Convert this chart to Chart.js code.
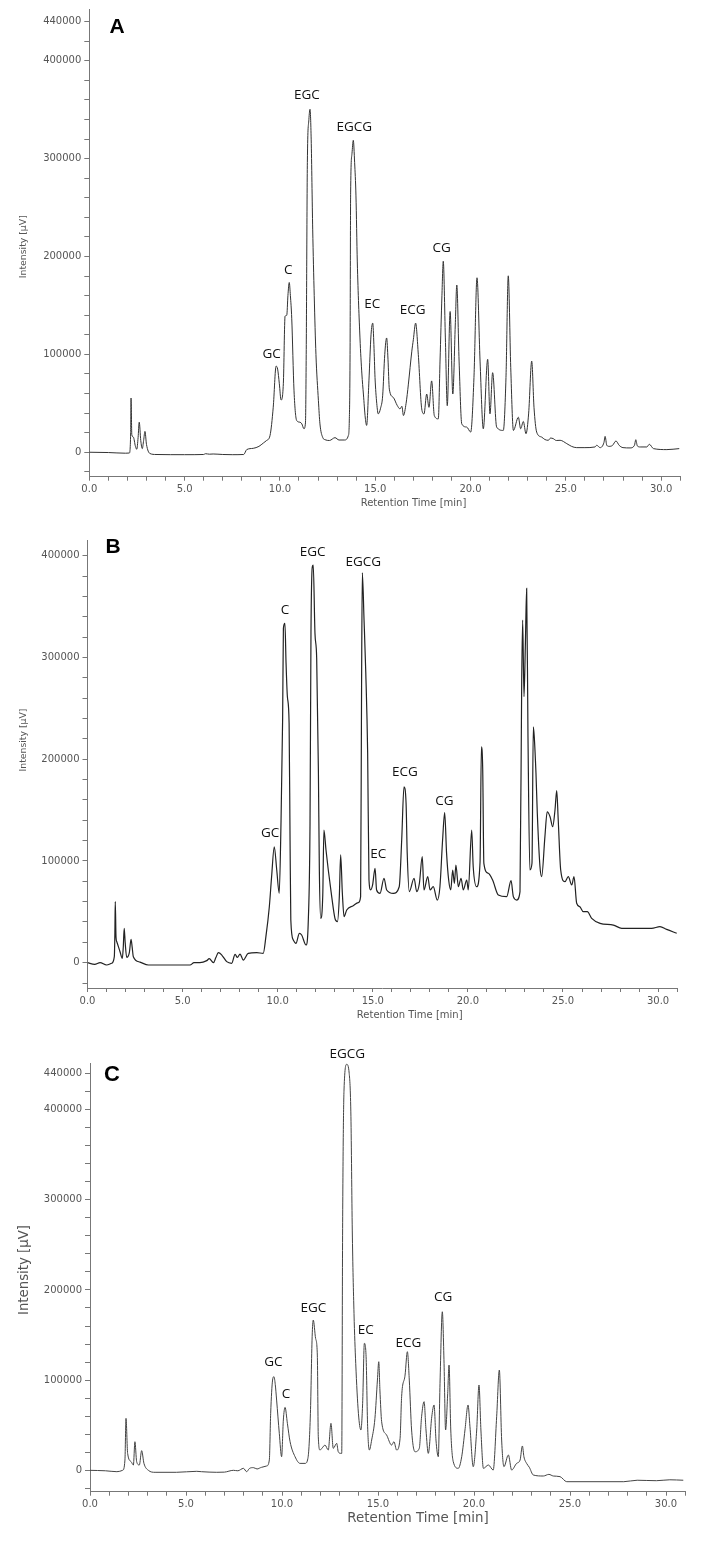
<!DOCTYPE html>
<html>
<head>
<meta charset="utf-8">
<script src="https://cdn.jsdelivr.net/npm/chart.js@4"></script>
<style>
  html, body { margin: 0; padding: 0; background: #fff; }
  body { width: 711px; height: 1542px; position: relative; overflow: hidden; }
  canvas { position: absolute; left: 0; }
</style>
</head>
<body>
<canvas id="chartA" width="711" height="512" style="top:0px"></canvas>
<canvas id="chartB" width="711" height="512" style="top:512px"></canvas>
<canvas id="chartC" width="711" height="518" style="top:1024px"></canvas>
<script>
// ---------------- DATA ----------------
const peakNames = ['GC', 'C', 'EGC', 'EGCG', 'EC', 'ECG', 'CG'];

// Panel A
const timeA = [0,1.0,1.9,2.1,2.17,2.19,2.23,2.31,2.42,2.49,2.56,2.62,2.7,2.78,2.85,2.92,3.0,3.18,3.5,5.0,6.0,6.1,6.3,6.5,7.0,7.5,8.1,8.26,8.6,8.9,9.13,9.3,9.48,9.65,9.8,9.88,9.97,10.06,10.18,10.27,10.36,10.42,10.49,10.55,10.62,10.74,10.88,11.05,11.15,11.26,11.34,11.38,11.44,11.52,11.58,11.64,11.72,11.8,11.89,12.02,12.1,12.25,12.37,12.6,12.89,13.1,13.4,13.59,13.64,13.68,13.71,13.78,13.85,13.92,13.99,14.06,14.2,14.3,14.38,14.48,14.55,14.67,14.78,14.87,14.93,14.99,15.08,15.16,15.28,15.39,15.5,15.6,15.67,15.74,15.95,16.15,16.3,16.4,16.48,16.62,16.74,16.92,17.0,17.12,17.26,17.44,17.56,17.7,17.82,17.96,18.1,18.31,18.4,18.5,18.57,18.68,18.78,18.93,19.07,19.2,19.28,19.4,19.54,19.8,20.01,20.18,20.34,20.5,20.67,20.9,21.02,21.16,21.37,21.72,21.86,21.98,22.11,22.25,22.51,22.63,22.77,22.91,23.05,23.21,23.33,23.47,23.73,23.9,24.08,24.2,24.34,24.5,24.7,25.05,25.3,25.57,26.0,26.53,26.62,26.8,27.0,27.06,27.15,27.27,27.45,27.63,27.8,28.0,28.37,28.6,28.67,28.75,28.9,29.25,29.38,29.6,30.3,30.95];
const intensityA = [0,-300,-1000,-800,20000,55400,18000,15500,6000,3000,15000,30700,12000,3700,12000,21300,8000,-1300,-2300,-2500,-2300,-1500,-2000,-1800,-2300,-2500,-2300,2700,4000,6000,9400,12000,17000,46000,88000,85000,70000,53400,70000,139000,140000,160000,173500,160000,137000,62800,32400,30700,29000,24000,30000,100000,296000,340000,350500,320000,228000,160000,100000,52700,29000,14900,12800,12000,14900,12500,12500,17000,32000,100000,265000,305000,318800,296000,262000,194500,116800,80000,59500,35000,27400,73000,120000,132000,110000,76300,50000,39200,45000,57700,100000,116800,95000,64500,56000,48000,44300,47000,37500,50000,69600,103300,115000,132000,100000,44300,39200,59500,45900,72900,37500,34100,93200,160000,195200,116800,47600,143800,59500,130000,170900,93200,29000,25700,20600,76300,178300,93200,24000,94900,39200,81300,25700,22300,76300,180300,86400,22300,35800,24000,31400,18900,40000,93200,45900,20600,15500,13000,12200,14500,13900,12000,12200,8800,6000,4700,4700,5400,7100,4700,10000,16200,7000,6000,7000,11500,7000,4700,4400,7000,12800,6500,5400,5400,8100,3700,2700,3700];
const labelTimeA = [9.57, 10.44, 11.41, 13.9, 14.85, 16.97, 18.49];
const labelIntensityA = [100600, 186100, 365000, 332300, 151600, 145600, 208700];

// Panel B
const timeB = [0,0.38,0.66,1.0,1.27,1.41,1.44,1.46,1.5,1.54,1.71,1.83,1.88,1.93,1.98,2.06,2.2,2.29,2.35,2.41,2.76,3.2,4.0,5.0,5.39,5.6,5.91,6.27,6.4,6.62,6.75,6.88,7.06,7.32,7.58,7.76,7.88,8.02,8.19,8.45,8.9,9.24,9.38,9.56,9.68,9.82,9.95,10.08,10.17,10.26,10.3,10.38,10.44,10.51,10.6,10.65,10.69,10.82,10.96,11.14,11.26,11.49,11.61,11.7,11.75,11.82,11.87,11.96,12.05,12.14,12.19,12.26,12.37,12.43,12.54,12.66,12.84,13.01,13.14,13.24,13.31,13.4,13.49,13.63,13.97,14.24,14.36,14.41,14.45,14.54,14.63,14.73,14.8,14.89,14.99,15.12,15.2,15.38,15.59,15.73,16.08,16.39,16.52,16.64,16.75,16.81,16.92,17.17,17.31,17.45,17.6,17.69,17.89,18.01,18.18,18.39,18.53,18.67,18.78,18.88,18.99,19.1,19.2,19.29,19.37,19.5,19.64,19.76,19.94,20.02,20.2,20.28,20.46,20.64,20.71,20.78,20.84,21.07,21.3,21.6,22.04,22.27,22.39,22.57,22.74,22.83,22.88,22.95,23.02,23.09,23.16,23.26,23.37,23.44,23.49,23.58,23.65,23.79,23.88,24.05,24.17,24.32,24.46,24.58,24.67,24.75,24.88,25.1,25.28,25.46,25.58,25.72,25.89,26.07,26.28,26.51,26.95,27.65,28.09,29.66,30.1,30.45,30.98];
const intensityB = [0,-1600,0,-2300,-600,5900,30000,60000,25000,20600,10800,4300,15000,33800,20000,5300,10000,23000,15000,5900,600,-2300,-2300,-2300,-2300,0,0,2000,3900,0,5000,9800,7500,1000,-600,8200,5200,8500,2600,9200,9800,9200,25600,55000,84600,114000,91100,68200,133700,240300,328800,333600,294300,261500,235300,120000,42000,22300,19000,28900,27200,17400,42000,137000,323800,389300,391000,323800,299200,189000,91100,43600,66500,130400,110800,91100,64900,43600,40300,64900,105900,68200,45300,51800,56000,59000,64900,271300,383400,336900,286000,205800,81300,71500,76400,92800,71500,68200,83000,71500,68200,74700,120600,173000,156700,107500,69800,83000,69800,78000,104200,71500,84600,71500,74700,61600,74700,120600,147500,107500,81300,71500,91100,78000,96000,74700,83000,71500,81300,71500,130400,94400,74700,99300,212300,189400,97700,87900,81300,66500,64900,80600,64900,61600,69800,277900,336900,261500,310600,368000,222200,91100,97700,232000,222200,186200,146900,94400,84600,123900,148400,143500,133700,150100,169100,140300,91100,79600,84600,76400,84600,58400,55000,50100,50100,43600,38700,37000,33800,33800,35400,32700,28900];
const labelTimeB = [9.6, 10.38, 11.84, 14.5, 15.29, 16.69, 18.76];
const labelIntensityB = [127200, 346700, 403400, 393600, 106600, 187800, 159000];

// Panel C
const timeC = [0,0.8,1.4,1.7,1.82,1.875,1.96,2.14,2.26,2.34,2.43,2.57,2.69,2.81,3.04,3.39,4.5,5.56,5.8,6.6,7.0,7.47,7.7,7.99,8.16,8.3,8.51,8.7,8.93,9.2,9.34,9.41,9.51,9.58,9.65,9.72,9.86,9.98,10.07,10.16,10.28,10.42,10.68,10.94,11.2,11.35,11.48,11.57,11.63,11.75,11.84,11.89,11.98,12.1,12.24,12.41,12.55,12.67,12.85,12.93,13.06,13.11,13.16,13.23,13.37,13.5,13.59,13.66,13.75,13.84,13.98,14.11,14.2,14.29,14.38,14.46,14.55,14.67,14.84,14.97,15.04,15.1,15.19,15.45,15.71,15.83,15.97,16.15,16.23,16.41,16.53,16.63,16.75,16.93,17.15,17.27,17.4,17.5,17.62,17.8,17.92,18.02,18.14,18.23,18.35,18.44,18.52,18.63,18.7,18.79,18.92,19.18,19.36,19.53,19.69,19.79,19.96,20.14,20.26,20.36,20.49,20.75,21.0,21.18,21.32,21.44,21.56,21.79,21.96,22.22,22.4,22.52,22.6,22.74,22.88,23.09,23.61,23.9,24.13,24.48,24.83,27.8,28.5,29.5,30.2,30.9];
const intensityC = [0,-500,-1500,0,11400,57600,18800,9600,5900,31700,9600,5900,21800,7700,0,-2200,-2200,-1100,-1500,-2200,-2000,0,-500,2200,-1500,2000,3000,1500,3300,4800,11400,63200,100100,103800,95000,77900,41000,15100,55800,69800,52100,31700,15100,7700,7700,13300,63200,148100,166600,146300,127800,37200,22500,25000,28000,22500,52100,24400,29900,20600,18800,18800,281100,421600,450100,440100,392000,266400,174000,118600,63200,44700,74300,140800,125900,48300,22500,33600,57600,100100,120400,89000,53900,39100,28000,31700,22500,35500,81600,105600,131500,100100,44700,20600,24400,59400,76100,44700,18800,59400,72400,33600,15100,96400,175800,118600,44700,85300,116700,44700,9600,2200,15100,44700,72400,48300,4000,44700,94600,44700,2200,5900,300,59400,111200,33600,4000,17000,300,7700,11400,27000,15100,7700,3400,-5200,-6300,-4500,-6300,-7000,-12600,-12600,-11000,-11500,-10500,-11000];
const labelTimeC = [9.55, 10.21, 11.63, 13.4, 14.36, 16.58, 18.4];
const labelIntensityC = [120400, 84600, 179600, 461500, 155500, 141500, 191800];

// Axis tick values
const yTickValuesA = [-20000,0,20000,40000,60000,80000,100000,120000,140000,160000,180000,200000,220000,240000,260000,280000,300000,320000,340000,360000,380000,400000,420000,440000];
const yTickValuesB = [-20000,0,20000,40000,60000,80000,100000,120000,140000,160000,180000,200000,220000,240000,260000,280000,300000,320000,340000,360000,380000,400000];
const yTickValuesC = yTickValuesA.slice();
const yLabelledA = [0,100000,200000,300000,400000,440000];
const yLabelledB = [0,100000,200000,300000,400000];
const yLabelledC = [0,100000,200000,300000,400000,440000];
const xTitle = 'Retention Time [min]';
const yTitle = 'Intensity [µV]';

// ---------------- DRAWING ----------------
function makeTextPlugin(cfg) {
  return {
    id: 'panelText_' + cfg.letter,
    afterDraw(chart) {
      const ctx = chart.ctx;
      const xs = chart.scales.x, ys = chart.scales.y;
      ctx.save();
      ctx.textAlign = 'center';
      ctx.textBaseline = 'middle';
      // peak labels
      ctx.fillStyle = '#111';
      ctx.font = cfg.labelFont;
      peakNames.forEach((n, i) => {
        ctx.fillText(n, xs.getPixelForValue(cfg.labelTimes[i]), ys.getPixelForValue(cfg.labelValues[i]));
      });
      // panel letter
      ctx.fillStyle = '#000';
      ctx.font = cfg.letterFont;
      ctx.fillText(cfg.letter, cfg.letterX, cfg.letterY);
      // axis titles
      ctx.fillStyle = '#555';
      ctx.font = cfg.xTitleFont;
      ctx.fillText(xTitle, cfg.xTitleX, cfg.xTitleY);
      ctx.translate(cfg.yTitleX, cfg.yTitleY);
      ctx.rotate(-Math.PI / 2);
      ctx.font = cfg.yTitleFont;
      ctx.fillText(yTitle, 0, 0);
      ctx.restore();
    }
  };
}

function makeChart(id, t, v, cfg) {
  const pts = t.map((x, i) => ({ x: x, y: v[i] }));
  return new Chart(document.getElementById(id), {
    type: 'line',
    data: { datasets: [{ data: pts, borderColor: cfg.lineColor, borderWidth: cfg.lineWidth, pointRadius: 0, fill: false, cubicInterpolationMode: 'monotone' }] },
    options: {
      responsive: false,
      animation: false,
      devicePixelRatio: 1,
      events: [],
      layout: { padding: { left: 0, right: cfg.padRight, top: cfg.padTop, bottom: cfg.padBottom } },
      plugins: { legend: { display: false }, tooltip: { enabled: false }, title: { display: false } },
      scales: {
        x: {
          type: 'linear', min: 0, max: 31,
          grid: { display: true, drawOnChartArea: false, drawTicks: true, tickLength: 4, color: '#777' },
          border: { display: true, color: '#777', width: 1 },
          ticks: {
            stepSize: 1, autoSkip: false, maxRotation: 0, minRotation: 0, padding: 3,
            color: '#555', font: { family: 'DejaVu Sans', size: cfg.tickSize },
            callback: (val) => (val % 5 === 0 ? val.toFixed(1) : '')
          },
          afterFit: (s) => { s.height = cfg.xAxisH; }
        },
        y: {
          type: 'linear', min: cfg.yMin, max: cfg.yMax,
          grid: { display: true, drawOnChartArea: false, drawTicks: true, tickLength: 5, color: '#777' },
          border: { display: true, color: '#777', width: 1 },
          afterBuildTicks: (s) => { s.ticks = cfg.yTicks.map(val => ({ value: val })); },
          ticks: {
            autoSkip: false, padding: 3,
            color: '#555', font: { family: 'DejaVu Sans', size: cfg.tickSize },
            callback: (val) => (cfg.yLabelled.includes(val) ? String(val) : '')
          },
          afterFit: (s) => { s.width = cfg.yAxisW; }
        }
      }
    },
    plugins: [makeTextPlugin(cfg)]
  });
}

makeChart('chartA', timeA, intensityA, {
  letter: 'A', letterX: 117, letterY: 27, letterFont: 'bold 21px "Liberation Sans"',
  labelTimes: labelTimeA, labelValues: labelIntensityA, labelFont: '13.5px "Open Sans"',
  xTitleX: 413.5, xTitleY: 503, xTitleFont: '10px "DejaVu Sans"',
  yTitleX: 23.5, yTitleY: 246.7, yTitleFont: '9.3px "DejaVu Sans"',
  lineColor: '#333', lineWidth: 1, tickSize: 10,
  yMin: -25000, yMax: 453000, yTicks: yTickValuesA, yLabelled: yLabelledA,
  yAxisW: 89.3, padRight: 30.8, padTop: 5, xAxisH: 20, padBottom: 512 - 476.7 - 20
});

makeChart('chartB', timeB, intensityB, {
  letter: 'B', letterX: 113, letterY: 35.5, letterFont: 'bold 21px "Liberation Sans"',
  labelTimes: labelTimeB, labelValues: labelIntensityB, labelFont: '13.5px "Open Sans"',
  xTitleX: 409.7, xTitleY: 503, xTitleFont: '10px "DejaVu Sans"',
  yTitleX: 23.5, yTitleY: 228, yTitleFont: '9.3px "DejaVu Sans"',
  lineColor: '#222', lineWidth: 1.2, tickSize: 10,
  yMin: -24900, yMax: 415600, yTicks: yTickValuesB, yLabelled: yLabelledB,
  yAxisW: 87.5, padRight: 711 - 677.1, padTop: 28, xAxisH: 20, padBottom: 512 - 476 - 20
});

makeChart('chartC', timeC, intensityC, {
  letter: 'C', letterX: 112, letterY: 50.7, letterFont: 'bold 22px "Liberation Sans"',
  labelTimes: labelTimeC, labelValues: labelIntensityC, labelFont: '13.5px "Open Sans"',
  xTitleX: 418, xTitleY: 495, xTitleFont: '13.4px "DejaVu Sans"',
  yTitleX: 25, yTitleY: 246, yTitleFont: '13.3px "DejaVu Sans"',
  lineColor: '#444', lineWidth: 1, tickSize: 10,
  yMin: -23700, yMax: 451600, yTicks: yTickValuesC, yLabelled: yLabelledC,
  yAxisW: 90, padRight: 711 - 685.2, padTop: 39, xAxisH: 20, padBottom: 518 - 467.7 - 20
});
</script>
</body>
</html>
